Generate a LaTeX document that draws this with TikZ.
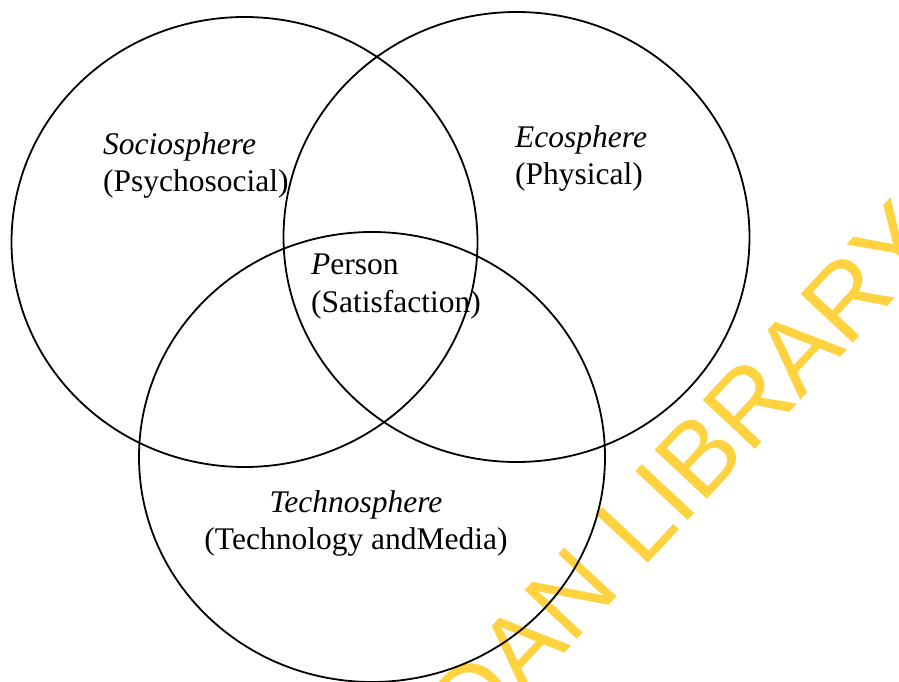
\documentclass[tikz,border=0pt]{standalone}
\usepackage{fontspec}
\setmainfont{Liberation Serif}
\newfontfamily\stampfont{Liberation Sans}
\usetikzlibrary{positioning}
\usetikzlibrary{shapes.geometric}

\definecolor{stampyellow}{RGB}{255,210,64}

\tikzset{
  sphere/.style={draw, line width=1.8pt, ellipse, inner sep=0pt, outer sep=0pt,
    minimum width=466pt, minimum height=450pt},
  label text/.style={inner sep=0pt, font=\fontsize{31.5}{37}\selectfont}
}

\begin{document}
\begin{tikzpicture}[x=1pt, y=1pt]
  \useasboundingbox (0,0) rectangle (899,681);

  % library stamp under the circles
  \begin{scope}
    \clip (0,0) rectangle (899,681);
    \node [rotate=47, anchor=base east, inner sep=0pt, text=stampyellow,
      font=\stampfont\fontsize{104}{104}\selectfont] (stamp) at (945,436) {DAN LIBRARY};
  \end{scope}

  % the three spheres
  \node [sphere] (socio)  at (244.5,439) {};
  \node [sphere] (eco)    at (516.5,444) {};
  \node [sphere] (techno) at (372,224)   {};

  % labels (base is the last line)
  \node [label text, align=left, anchor=base west] (sociolabel) at (103,489)
    {\textit{Sociosphere}\\(Psychosocial)};
  \node [label text, align=left, anchor=base west] (ecolabel) at (515,496)
    {\textit{Ecosphere}\\(Physical)};
  \node [label text, align=left, anchor=base west] (personlabel) at (311,369)
    {\textit{P}erson\\(Satisfaction)};
  \node [label text, align=center, anchor=base] (technolabel) at (356,132)
    {\textit{Technosphere}\\(Technology andMedia)};
\end{tikzpicture}
\end{document}
